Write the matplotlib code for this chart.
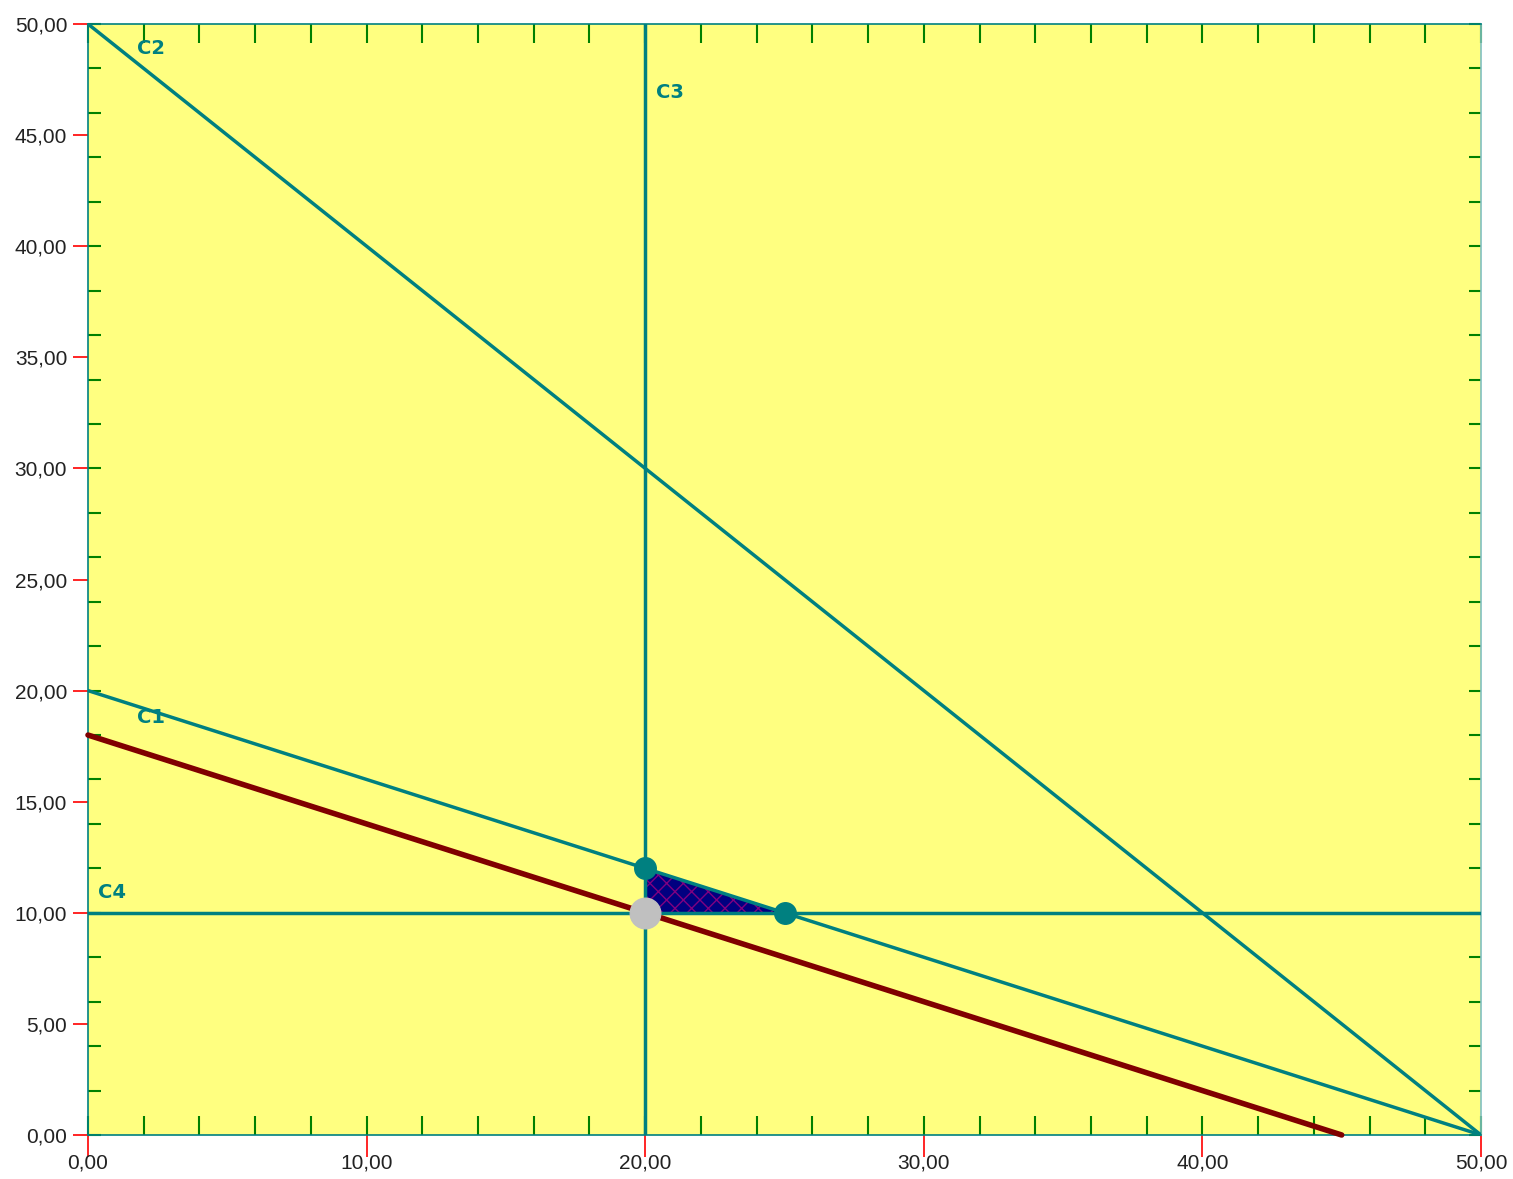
import matplotlib
matplotlib.use("Agg")
import matplotlib.pyplot as plt
from matplotlib.ticker import MultipleLocator, FuncFormatter

# constraint lines (x values, y values)
c1_x = [0, 50]
c1_y = [20, 0]
c2_x = [0, 50]
c2_y = [50, 0]
c3_x = [20, 20]
c3_y = [0, 50]
c4_x = [0, 50]
c4_y = [10, 10]

# objective function line
obj_x = [0, 45]
obj_y = [18, 0]

# feasible region corners
region_x = [20, 25, 20]
region_y = [12, 10, 10]

# vertices
vert_x = [20, 25]
vert_y = [12, 10]
opt_x = [20]
opt_y = [10]

# line labels
lab_names = ["C1", "C2", "C3", "C4"]
lab_x = [1.75, 1.75, 20.4, 0.35]
lab_y = [18.8, 48.9, 46.9, 10.9]

teal = "#008080"
yellow = "#FFFF80"

fig = plt.figure(figsize=(15.13, 11.79), dpi=100)
ax = fig.add_axes([88/1513, 1 - 1135/1179, (1481-88)/1513, (1135-24)/1179])
ax.set_facecolor(yellow)

ax.fill(region_x, region_y, facecolor="#000080", edgecolor="#800080",
        hatch="xx", linewidth=0, zorder=2)

ax.plot(c1_x, c1_y, color=teal, lw=2.5, zorder=3)
ax.plot(c2_x, c2_y, color=teal, lw=2.5, zorder=3)
ax.plot(c3_x, c3_y, color=teal, lw=2.5, zorder=3)
ax.plot(c4_x, c4_y, color=teal, lw=2.5, zorder=3)
ax.plot(obj_x, obj_y, color="#800000", lw=4, zorder=4, clip_on=False,
        solid_capstyle="round")

ax.plot(vert_x, vert_y, "o", color=teal, ms=15.5, zorder=5)
ax.plot(opt_x, opt_y, "o", color="#C0C0C0", ms=22, zorder=6)

for name, x, y in zip(lab_names, lab_x, lab_y):
    ax.text(x, y, name, color=teal, fontsize=14, fontweight="bold",
            ha="left", va="center", zorder=7)

ax.set_xlim(0, 50)
ax.set_ylim(0, 50)

ax.xaxis.set_major_locator(MultipleLocator(10))
ax.yaxis.set_major_locator(MultipleLocator(5))
ax.xaxis.set_minor_locator(MultipleLocator(2))
ax.yaxis.set_minor_locator(MultipleLocator(2))
ax.xaxis.remove_overlapping_locs = False
ax.yaxis.remove_overlapping_locs = False

fmt = FuncFormatter(lambda v, p: ("%.2f" % v).replace(".", ","))
ax.xaxis.set_major_formatter(fmt)
ax.yaxis.set_major_formatter(fmt)

ax.tick_params(axis="x", which="major", direction="out", length=16, width=1.2,
               color="red", pad=-3, top=False)
ax.tick_params(axis="y", which="major", direction="out", length=11, width=1.2,
               color="red", pad=4, right=False)
ax.tick_params(axis="x", which="minor", direction="in", length=14, width=1.5,
               color="#008000", top=True, bottom=True)
ax.tick_params(axis="y", which="minor", direction="in", length=9, width=1.5,
               color="#008000", left=True, right=True)

for lab in ax.get_xticklabels() + ax.get_yticklabels():
    lab.set_family(["Liberation Sans", "DejaVu Sans"])
    lab.set_fontsize(15)
    lab.set_color("#222222")

for s in ax.spines.values():
    s.set_color(teal)
    s.set_linewidth(1.2)
ax.spines["right"].set_color("#80C0C0")

fig.savefig("out.png", dpi=100)
